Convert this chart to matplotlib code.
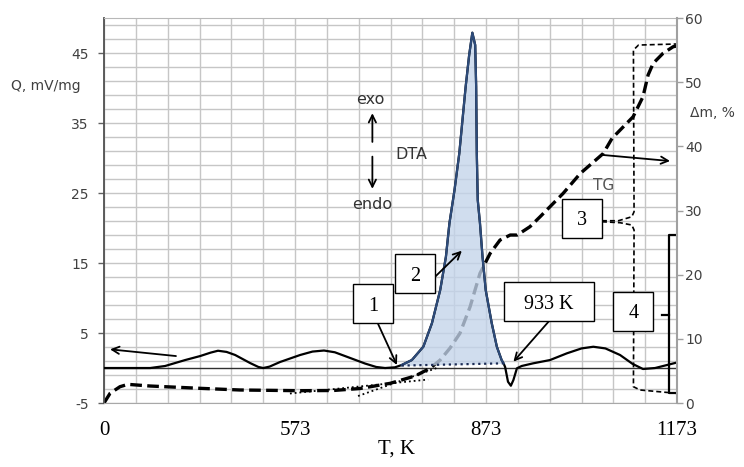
import numpy as np
import matplotlib
matplotlib.use('Agg')
import matplotlib.pyplot as plt
from matplotlib.patches import Rectangle

plt.rcParams['font.family'] = 'DejaVu Sans'
plt.rcParams['axes.unicode_minus'] = False

# x runs over the 18 grid columns of the original chart (labels 0..1173 K)
x_ticks = [0, 6, 12, 18]
x_labels = ['0', '573', '873', '1173']
q_ticks = [-5, 5, 15, 25, 35, 45]
m_ticks = [0, 10, 20, 30, 40, 50, 60]

# DTA, Q mV/mg (left axis)
dta_x = [0, 1.45, 1.92, 2.55, 3.02, 3.35, 3.58, 3.85, 4.12, 4.59, 4.85, 5.00, 5.20, 5.53,
         6.16, 6.55, 6.91, 7.25, 7.57, 8.20, 8.55, 8.83, 9.14, 9.35, 9.67, 10.03, 10.30,
         10.56, 10.74, 10.85, 11.01, 11.16, 11.36, 11.47, 11.57, 11.66, 11.69, 11.71,
         11.74, 11.81, 11.89, 11.99, 12.18, 12.34, 12.49, 12.55, 12.60, 12.69, 12.78,
         12.86, 12.97, 13.12, 13.48, 14.01, 14.54, 15.00, 15.37, 15.75, 16.21, 16.60,
         16.93, 17.31, 18.00]
dta_q = [0, 0, 0.29, 1.14, 1.71, 2.20, 2.47, 2.30, 1.86, 0.71, 0.15, 0, 0.20, 0.86,
         1.86, 2.35, 2.50, 2.25, 1.71, 0.64, 0.15, 0, 0.10, 0.43, 1.14, 3.04, 6.39,
         11.14, 15.90, 20.67, 25.43, 30.67, 40.19, 44.71, 47.90, 46.14, 40.19, 30.67,
         24.00, 20.67, 15.90, 11.14, 6.39, 3.04, 1.14, 0.67, 0.14, -1.96, -2.53,
         -1.71, -0.04, 0.29, 0.67, 1.14, 2.10, 2.80, 3.04, 2.80, 1.86, 0.60,
         -0.14, 0, 0.79]

# baseline under the exo peak
base_x = [9.35, 12.55]
base_q = [0.35, 0.67]

# TG, mass loss % (right axis)
tg_x = [0, 0.19, 0.50, 0.75, 1.45, 3.02, 4.27, 6.16, 7.19, 8.04, 8.99, 9.77, 10.24,
        10.56, 10.87, 11.18, 11.50, 11.81, 12.13, 12.44, 12.76, 12.98, 13.38, 13.70,
        14.42, 14.96, 15.68, 15.96, 16.62, 16.93, 17.09, 17.25, 17.56, 17.88, 18.00]
tg_m = [0, 1.51, 2.54, 2.91, 2.65, 2.29, 2.03, 1.92, 1.95, 2.26, 3.07, 4.21, 5.41,
        6.70, 8.57, 10.86, 15.01, 20.21, 23.33, 25.40, 26.18, 26.18, 27.48, 29.04,
        32.66, 35.77, 38.88, 41.26, 44.61, 47.73, 51.11, 52.94, 54.50, 55.53, 55.64]

# tangents drawn on TG
tan1_x = [5.84, 10.18]
tan1_m = [1.48, 3.66]
tan2_x = [7.98, 10.49]
tan2_m = [1.09, 5.53]

# brackets for boxes 3 and 4 (right axis units)
br3_up_x = [15.64, 16.16, 16.58, 16.65, 16.63, 16.79, 17.97]
br3_up_m = [28.41, 28.41, 29.03, 29.81, 55.01, 55.79, 55.95]
br3_lo_x = [15.64, 16.21, 16.58, 16.65, 16.63, 16.84, 17.99]
br3_lo_m = [28.25, 28.10, 27.74, 26.96, 2.54, 2.03, 1.51]
br4_x = [18.0, 17.76, 17.76, 18.0]
br4_m = [26.18, 26.18, 1.51, 1.51]
br4_tick_x = [17.53, 17.76]
br4_tick_m = [13.76, 13.76]

fig = plt.figure(figsize=(7.44, 4.67), dpi=100)
ax = fig.add_axes([0.1398, 0.1370, 0.7702, 0.8244])
ax.set_xlim(0, 18)
ax.set_ylim(-5, 50)
ax2 = ax.twinx()
ax2.set_ylim(0, 60)
tg = ax2.transData

# grid
ax.set_xticks(x_ticks)
ax.set_xticklabels(x_labels, fontfamily='Liberation Serif', fontsize=15)
ax.set_xticks(np.arange(0, 19), minor=True)
ax.set_yticks(q_ticks)
ax.set_yticks(np.arange(-5, 50, 2), minor=True)
ax.grid(which='both', color='#c6c6c6', lw=1.0)
ax.set_axisbelow(True)
ax.tick_params(which='minor', length=0)
ax.tick_params(axis='x', length=0, pad=13)
ax.tick_params(axis='y', length=4, width=1, color='#606060', labelsize=10,
               labelcolor='#404040', pad=7)
ax2.set_yticks(m_ticks)
ax2.tick_params(axis='y', length=4, width=1, color='#a0a0a0', labelsize=10,
                labelcolor='#404040', pad=2)

for s in ['left', 'top', 'bottom']:
    ax2.spines[s].set_visible(False)
ax.spines['right'].set_visible(False)
ax.spines['left'].set_color('#505050')
ax.spines['left'].set_linewidth(1.3)
ax.spines['bottom'].set_color('#a8a8a8')
ax.spines['top'].set_color('#b8b8b8')
ax2.spines['right'].set_color('#a0a0a0')
ax2.spines['right'].set_linewidth(1.5)

ax.axhline(0, color='#303030', lw=1.0, zorder=2)

# TG and its helpers
ax.plot(tg_x, tg_m, transform=tg, color='black', lw=2.4, dashes=(3.5, 1.6), zorder=2)
ax.plot(tan1_x, tan1_m, transform=tg, color='black', lw=1.3, ls=':', zorder=2)
ax.plot(tan2_x, tan2_m, transform=tg, color='black', lw=1.3, ls=':', zorder=2)
ax.plot(br3_up_x, br3_up_m, transform=tg, color='black', lw=1.2, dashes=(3, 1.8), zorder=2)
ax.plot(br3_lo_x, br3_lo_m, transform=tg, color='black', lw=1.2, dashes=(3, 1.8), zorder=2)
ax.plot(br4_x, br4_m, transform=tg, color='black', lw=1.6, zorder=4)
ax.plot(br4_tick_x, br4_tick_m, transform=tg, color='black', lw=1.6, zorder=4)

# DTA with filled exo peak
dx = np.array(dta_x)
dq = np.array(dta_q)
bq = np.interp(dx, base_x, base_q)
inpk = (dx >= base_x[0]) & (dx <= base_x[1])
ax.fill_between(dx, dq, bq, where=inpk, interpolate=True, color='#c3d4ea',
                alpha=0.78, lw=0, zorder=3)
ax.plot(dx, dq, color='black', lw=1.6, zorder=4)
ax.plot(dx[inpk], dq[inpk], color='#2d4b7a', lw=1.6, zorder=4)
ax.plot(base_x, base_q, color='#1c2c55', lw=1.6, ls=':', zorder=4)

# labels and arrows
arr = dict(arrowstyle='->', color='black', lw=1.3, shrinkA=0, shrinkB=0, mutation_scale=13)
ax.annotate('', xy=(0.19, 2.67), xytext=(2.26, 1.71), arrowprops=arr, zorder=5)
ax.annotate('', xy=(17.78, 29.57), xytext=(15.68, 30.43), arrowprops=arr, zorder=5)
ax.annotate('', xy=(8.43, 36.4), xytext=(8.43, 32.3), arrowprops=arr, zorder=5)
ax.annotate('', xy=(8.43, 25.6), xytext=(8.43, 30.2), arrowprops=arr, zorder=5)
ax.text(8.38, 38.3, 'exo', ha='center', va='center', fontsize=11.5, color='#333333')
ax.text(9.64, 30.5, 'DTA', ha='center', va='center', fontsize=11.5, color='#333333')
ax.text(8.43, 23.3, 'endo', ha='center', va='center', fontsize=11.5, color='#333333')
ax.text(15.68, 26.1, 'TG', ha='center', va='center', fontsize=11, color='#555555')


def box(xc, yc, txt, w=1.26):
    h = 5.57
    ax.add_patch(Rectangle((xc - w / 2, yc - h / 2), w, h, fc='white', ec='black',
                           lw=1.0, zorder=6))
    ax.text(xc, yc, txt, ha='center', va='center_baseline', fontsize=14.5,
            fontfamily='Liberation Serif', zorder=7)


box(8.45, 9.17, '1')
box(9.77, 13.47, '2')
box(13.98, 9.47, '933 K', w=2.83)
box(15.01, 21.39, '3')
box(16.63, 8.11, '4')
ax.annotate('', xy=(9.20, 0.43), xytext=(8.61, 6.29), arrowprops=arr, zorder=5)
ax.annotate('', xy=(11.24, 16.76), xytext=(10.40, 13.04), arrowprops=arr, zorder=5)
ax.annotate('', xy=(12.86, 0.90), xytext=(14.01, 6.86), arrowprops=arr, zorder=5)

fig.text(0.0622, 0.8148, 'Q, mV/mg', ha='center', va='center', fontsize=10, color='#404040')
fig.text(0.957, 0.758, '\u0394m, %', ha='center', va='center', fontsize=10, color='#404040')
fig.text(0.533, 0.028, 'T, K', ha='center', va='baseline', fontsize=15,
         fontfamily='Liberation Serif')

fig.savefig('out.png', dpi=100)
